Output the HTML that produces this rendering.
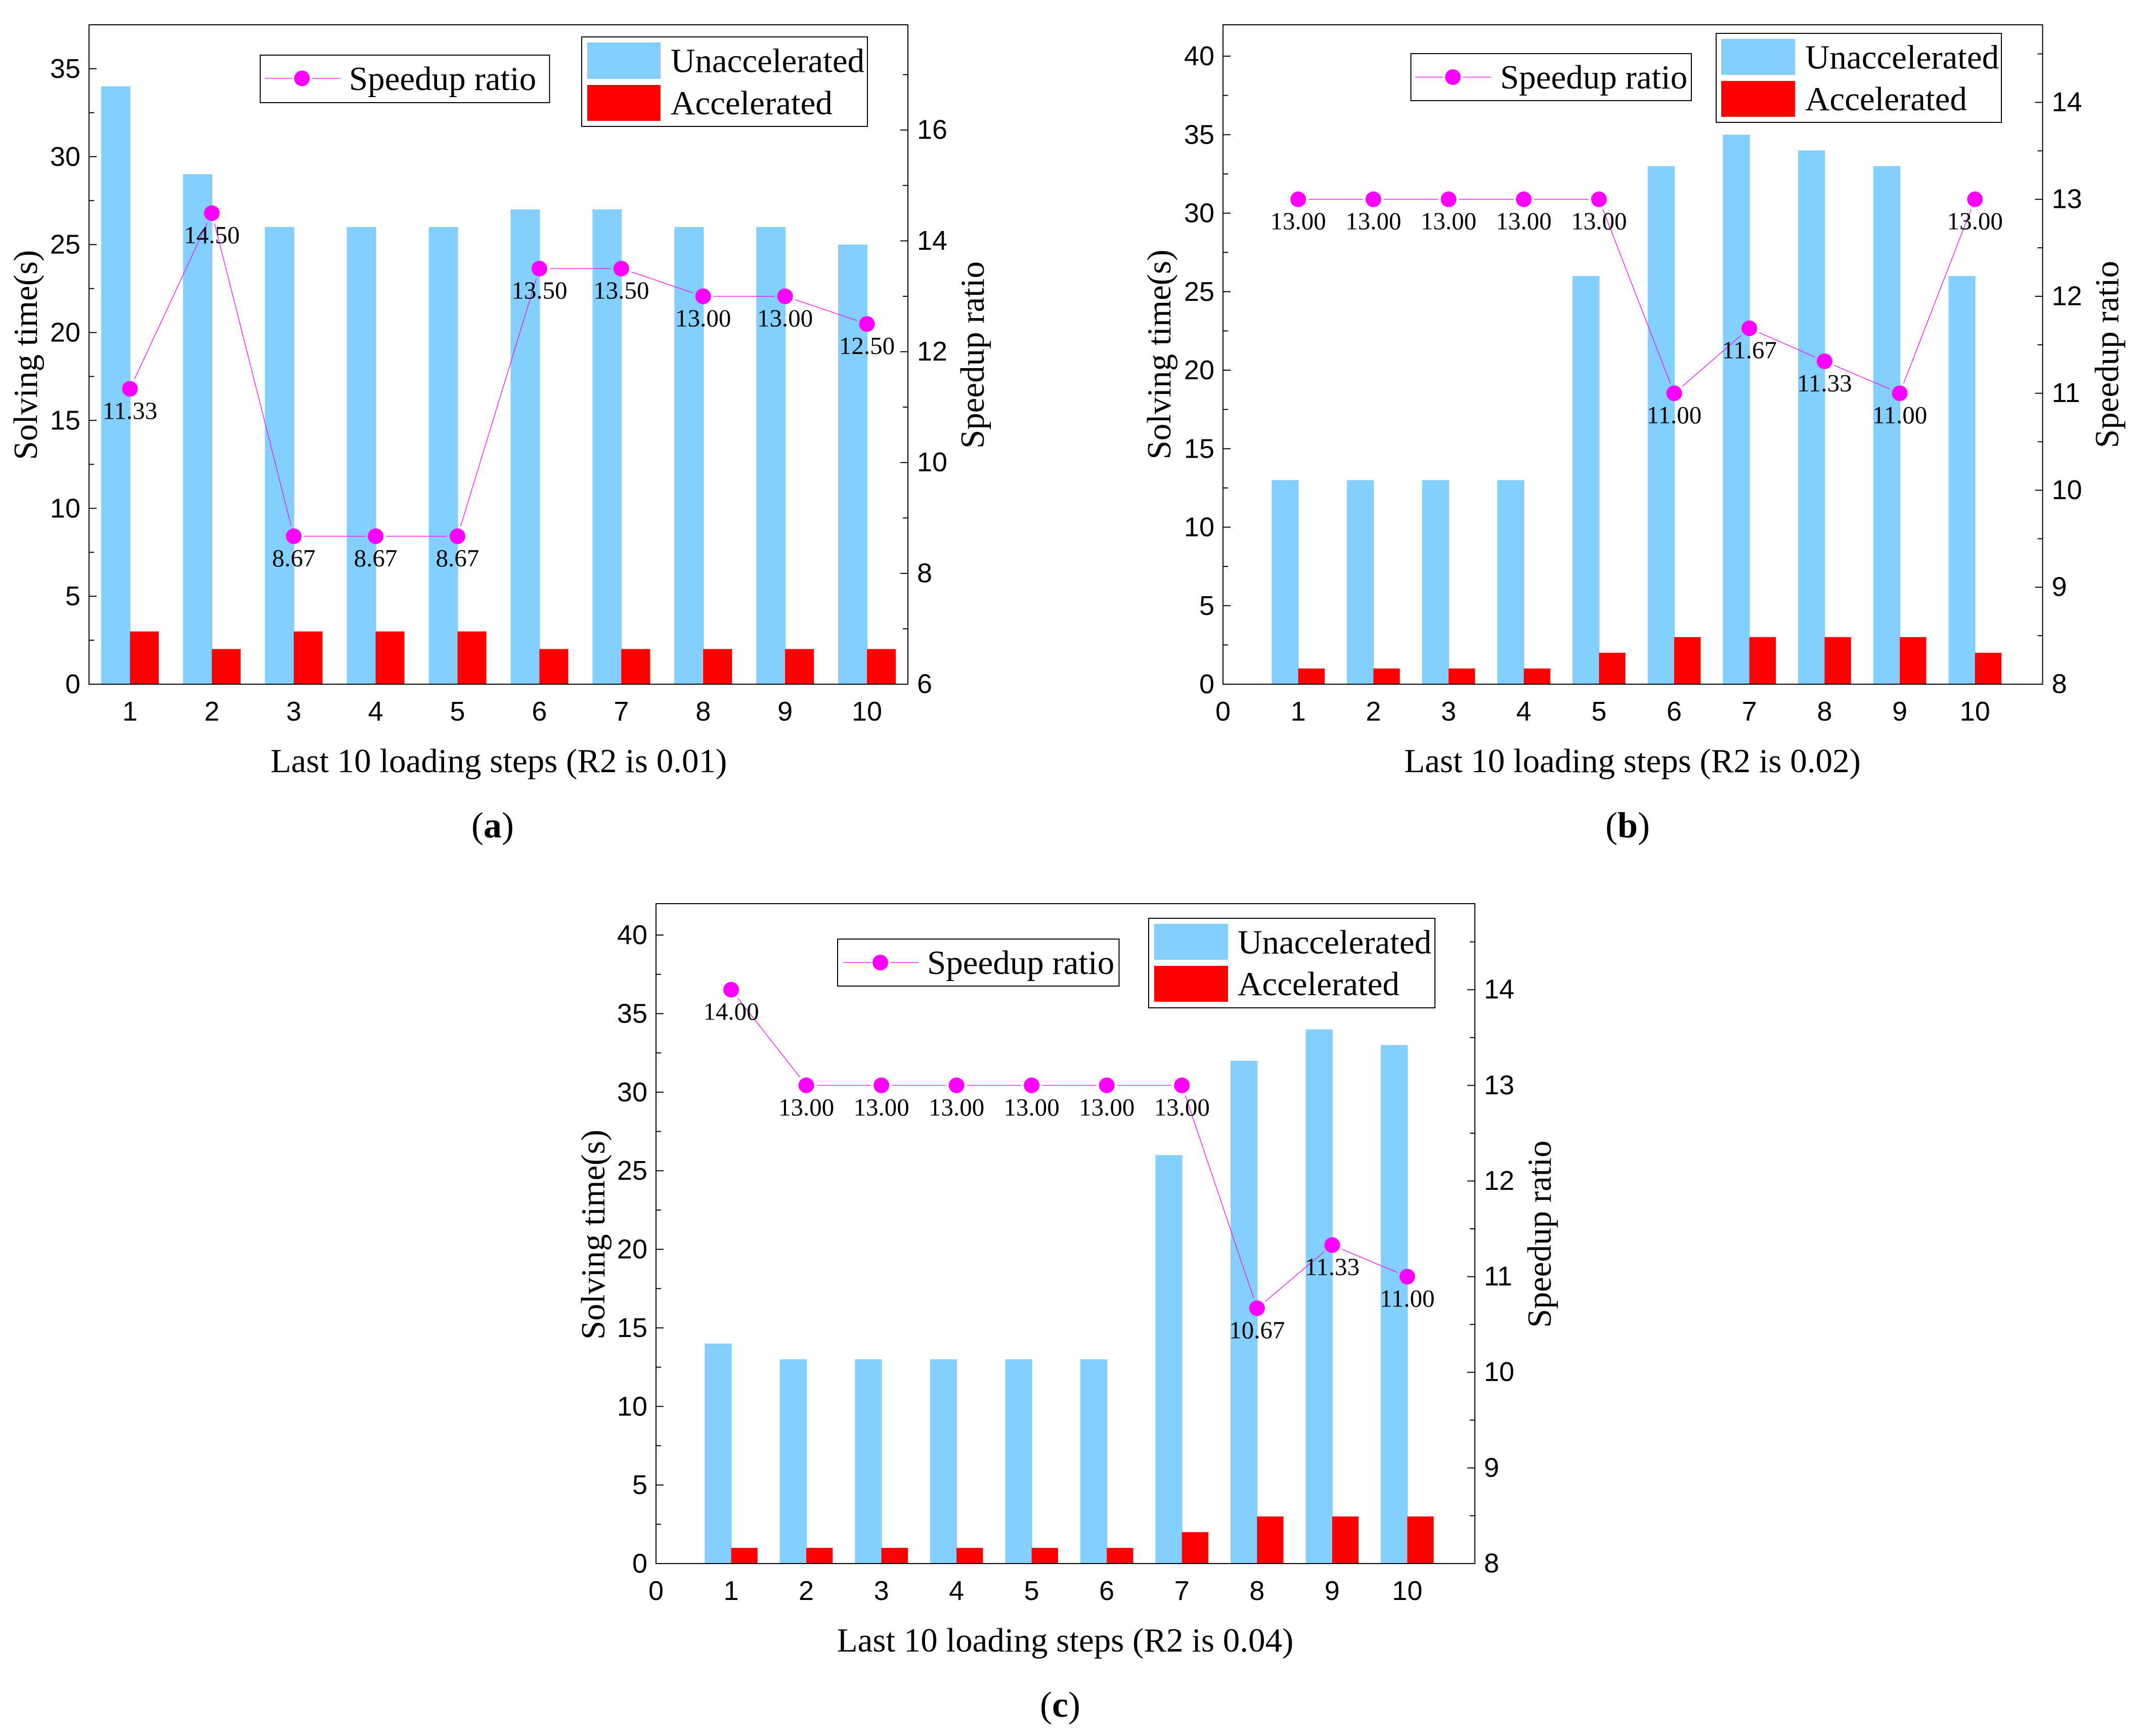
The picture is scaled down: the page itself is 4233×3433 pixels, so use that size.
<!DOCTYPE html>
<html lang="en">
<head>
<meta charset="utf-8">
<title>Solving time and speedup ratio for R2 of 0.01, 0.02 and 0.04</title>
<style>
html,body{margin:0;padding:0;background:#fff;}
svg{display:block;}
.serif{font-family:"Liberation Serif",serif;fill:#000;}
.sans{font-family:"Liberation Sans",sans-serif;fill:#000;}
.frame{fill:none;stroke:#000;stroke-width:2;}
.legend-box{fill:#fff;stroke:#000;stroke-width:2;}
.title{font-size:67px;}
.leg{font-size:67px;}
.ratio-line{stroke:#ff00ff;stroke-width:1.3;fill:none;}
</style>
</head>
<body>
<svg id="chart" xmlns="http://www.w3.org/2000/svg" width="4233" height="3433" viewBox="0 0 4233 3433">
  <rect x="0" y="0" width="4233" height="3433" fill="#fff"/>

  <g id="panel-a">
    <g class="marks"></g>
    <rect class="frame" x="176" y="49" width="1619" height="1304"/>
    <g class="axes"></g>
    <g class="points"></g>
    <text class="serif title" x="986" y="1527" text-anchor="middle">Last 10 loading steps (R2 is 0.01)</text>
    <text class="serif title" transform="translate(73 702) rotate(-90)" text-anchor="middle">Solving time(s)</text>
    <text class="serif title" transform="translate(1945 702) rotate(-90)" text-anchor="middle">Speedup ratio</text>
    <g>
      <rect class="legend-box" x="514.5" y="109" width="572" height="94"/>
      <line class="ratio-line" x1="524" y1="155" x2="578" y2="155"/>
      <line class="ratio-line" x1="617" y1="155" x2="673" y2="155"/>
      <circle cx="597" cy="155" r="15.5" fill="#ff00ff"/>
      <text class="serif leg" x="690" y="178">Speedup ratio</text>
    </g>
    <g>
      <rect class="legend-box" x="1150" y="73" width="565" height="177"/>
      <rect x="1161" y="84" width="145" height="72" fill="#83cfff"/>
      <rect x="1161" y="168" width="145" height="71" fill="#ff0000"/>
      <text class="serif leg" x="1326" y="142.5">Unaccelerated</text>
      <text class="serif leg" x="1326" y="226">Accelerated</text>
    </g>
    <text class="serif" x="974" y="1656" text-anchor="middle" font-size="72">(<tspan font-weight="bold">a</tspan>)</text>
  </g>

  <g id="panel-b">
    <g class="marks"></g>
    <rect class="frame" x="2418" y="49" width="1620.5" height="1304"/>
    <g class="axes"></g>
    <g class="points"></g>
    <text class="serif title" x="3227.5" y="1527" text-anchor="middle">Last 10 loading steps (R2 is 0.02)</text>
    <text class="serif title" transform="translate(2314 701) rotate(-90)" text-anchor="middle">Solving time(s)</text>
    <text class="serif title" transform="translate(4188 701) rotate(-90)" text-anchor="middle">Speedup ratio</text>
    <g>
      <rect class="legend-box" x="2789.5" y="106" width="554.5" height="93"/>
      <line class="ratio-line" x1="2798" y1="152.5" x2="2854" y2="152.5"/>
      <line class="ratio-line" x1="2892" y1="152.5" x2="2948" y2="152.5"/>
      <circle cx="2872.5" cy="152.5" r="15.5" fill="#ff00ff"/>
      <text class="serif leg" x="2966" y="175">Speedup ratio</text>
    </g>
    <g>
      <rect class="legend-box" x="3393" y="66" width="564" height="176"/>
      <rect x="3403" y="77" width="146" height="71" fill="#83cfff"/>
      <rect x="3403" y="160" width="146" height="71" fill="#ff0000"/>
      <text class="serif leg" x="3569" y="135.5">Unaccelerated</text>
      <text class="serif leg" x="3569" y="218">Accelerated</text>
    </g>
    <text class="serif" x="3218" y="1656" text-anchor="middle" font-size="72">(<tspan font-weight="bold">b</tspan>)</text>
  </g>

  <g id="panel-c">
    <g class="marks"></g>
    <rect class="frame" x="1297" y="1787" width="1619" height="1305"/>
    <g class="axes"></g>
    <g class="points"></g>
    <text class="serif title" x="2106" y="3266" text-anchor="middle">Last 10 loading steps (R2 is 0.04)</text>
    <text class="serif title" transform="translate(1195 2441.5) rotate(-90)" text-anchor="middle">Solving time(s)</text>
    <text class="serif title" transform="translate(3066 2440.5) rotate(-90)" text-anchor="middle">Speedup ratio</text>
    <g>
      <rect class="legend-box" x="1656" y="1857" width="556.5" height="93"/>
      <line class="ratio-line" x1="1667" y1="1903.5" x2="1723" y2="1903.5"/>
      <line class="ratio-line" x1="1760" y1="1903.5" x2="1816" y2="1903.5"/>
      <circle cx="1740.5" cy="1903.5" r="15.5" fill="#ff00ff"/>
      <text class="serif leg" x="1833" y="1926">Speedup ratio</text>
    </g>
    <g>
      <rect class="legend-box" x="2271" y="1816" width="566" height="177"/>
      <rect x="2282" y="1827" width="146" height="71" fill="#83cfff"/>
      <rect x="2282" y="1910" width="146" height="71" fill="#ff0000"/>
      <text class="serif leg" x="2447" y="1885.5">Unaccelerated</text>
      <text class="serif leg" x="2447" y="1968">Accelerated</text>
    </g>
    <text class="serif" x="2096" y="3395" text-anchor="middle" font-size="72">(<tspan font-weight="bold">c</tspan>)</text>
  </g>
</svg>

<script>
// Shared categories
var steps = [1, 2, 3, 4, 5, 6, 7, 8, 9, 10];

// Panel (a): R2 = 0.01
var unacceleratedA = [34, 29, 26, 26, 26, 27, 27, 26, 26, 25];
var acceleratedA = [3, 2, 3, 3, 3, 2, 2, 2, 2, 2];
var ratioA = [11.33, 14.5, 8.67, 8.67, 8.67, 13.5, 13.5, 13, 13, 12.5];
var xTicksA = [1, 2, 3, 4, 5, 6, 7, 8, 9, 10];
var leftTicksA = [0, 5, 10, 15, 20, 25, 30, 35];
var leftMinorA = [2.5, 7.5, 12.5, 17.5, 22.5, 27.5, 32.5];
var rightTicksA = [6, 8, 10, 12, 14, 16];
var rightMinorA = [7, 9, 11, 13, 15, 17];

// Panel (b): R2 = 0.02
var unacceleratedB = [13, 13, 13, 13, 26, 33, 35, 34, 33, 26];
var acceleratedB = [1, 1, 1, 1, 2, 3, 3, 3, 3, 2];
var ratioB = [13, 13, 13, 13, 13, 11, 11.67, 11.33, 11, 13];
var xTicksB = [0, 1, 2, 3, 4, 5, 6, 7, 8, 9, 10];
var leftTicksB = [0, 5, 10, 15, 20, 25, 30, 35, 40];
var leftMinorB = [2.5, 7.5, 12.5, 17.5, 22.5, 27.5, 32.5, 37.5];
var rightTicksB = [8, 9, 10, 11, 12, 13, 14];
var rightMinorB = [8.5, 9.5, 10.5, 11.5, 12.5, 13.5, 14.5];

// Panel (c): R2 = 0.04
var unacceleratedC = [14, 13, 13, 13, 13, 13, 26, 32, 34, 33];
var acceleratedC = [1, 1, 1, 1, 1, 1, 2, 3, 3, 3];
var ratioC = [14, 13, 13, 13, 13, 13, 13, 10.67, 11.33, 11];
var xTicksC = [0, 1, 2, 3, 4, 5, 6, 7, 8, 9, 10];
var leftTicksC = [0, 5, 10, 15, 20, 25, 30, 35, 40];
var leftMinorC = [2.5, 7.5, 12.5, 17.5, 22.5, 27.5, 32.5, 37.5];
var rightTicksC = [8, 9, 10, 11, 12, 13, 14];
var rightMinorC = [8.5, 9.5, 10.5, 11.5, 12.5, 13.5, 14.5];

var NS = 'http://www.w3.org/2000/svg';

function mk(parent, tag, attrs) {
  var el = document.createElementNS(NS, tag);
  for (var k in attrs) { el.setAttribute(k, attrs[k]); }
  parent.appendChild(el);
  return el;
}

function linear(d0, d1, r0, r1) {
  return function (v) { return r0 + (v - d0) * (r1 - r0) / (d1 - d0); };
}

function drawPanel(id, box, domains, blue, red, ratio, xTicks, leftTicks, leftMinor, rightTicks, rightMinor) {
  var root = document.getElementById(id);
  var marks = root.querySelector('.marks');
  var axes = root.querySelector('.axes');
  var points = root.querySelector('.points');
  var x = linear(domains.x[0], domains.x[1], box.left, box.right);
  var yL = linear(domains.yL[0], domains.yL[1], box.bottom, box.top);
  var yR = linear(domains.yR[0], domains.yR[1], box.bottom, box.top);
  var barW = 0.352 * (x(1) - x(0));

  steps.forEach(function (s, i) {
    var cx = x(s);
    var by = yL(blue[i]);
    var b = mk(marks, 'rect', { x: cx - barW, y: by, width: barW + 1, height: box.bottom - by, fill: '#83cfff' });
    
    
    var ry = yL(red[i]);
    var r = mk(marks, 'rect', { x: cx, y: ry, width: barW, height: box.bottom - ry, fill: '#ff0000' });
    
    
  });

  leftTicks.forEach(function (v) {
    var t = mk(axes, 'line', { x1: box.left, x2: box.left + 15, y1: yL(v), y2: yL(v), stroke: '#000', 'stroke-width': 2 });
    
    
    var l = mk(axes, 'text', { x: box.left - 17, y: yL(v) + 18, 'text-anchor': 'end', 'font-size': 54, 'class': 'sans' });
    l.textContent = String(v);
    
    
  });
  leftMinor.forEach(function (v) {
    var t = mk(axes, 'line', { x1: box.left, x2: box.left + 10, y1: yL(v), y2: yL(v), stroke: '#000', 'stroke-width': 2 });
    
    
  });
  rightTicks.forEach(function (v) {
    var t = mk(axes, 'line', { x1: box.right, x2: box.right - 15, y1: yR(v), y2: yR(v), stroke: '#000', 'stroke-width': 2 });
    
    
    var l = mk(axes, 'text', { x: box.right + 18, y: yR(v) + 17.5, 'font-size': 54, 'class': 'sans' });
    l.textContent = String(v);
    
    
  });
  rightMinor.forEach(function (v) {
    var t = mk(axes, 'line', { x1: box.right, x2: box.right - 10, y1: yR(v), y2: yR(v), stroke: '#000', 'stroke-width': 2 });
    
    
  });
  xTicks.forEach(function (v) {
    var l = mk(axes, 'text', { x: x(v), y: box.bottom + 72, 'text-anchor': 'middle', 'font-size': 54, 'class': 'sans' });
    l.textContent = String(v);
    
    
  });

  var gap = 21;
  for (var i = 0; i < steps.length - 1; i++) {
    var x0 = x(steps[i]), y0 = yR(ratio[i]), x1 = x(steps[i + 1]), y1 = yR(ratio[i + 1]);
    var len = Math.sqrt((x1 - x0) * (x1 - x0) + (y1 - y0) * (y1 - y0));
    var ux = (x1 - x0) / len, uy = (y1 - y0) / len;
    var seg = mk(points, 'line', { x1: x0 + ux * gap, y1: y0 + uy * gap, x2: x1 - ux * gap, y2: y1 - uy * gap, 'class': 'ratio-line' });
    
    
  }
  steps.forEach(function (s, i) {
    var px = x(s), py = yR(ratio[i]);
    var c = mk(points, 'circle', { cx: px, cy: py, r: 15.5, fill: '#ff00ff' });
    
    
    var l = mk(points, 'text', { x: px, y: py + 59.5, 'text-anchor': 'middle', 'font-size': 49, 'class': 'serif' });
    l.textContent = ratio[i].toFixed(2);
    
    
  });
}

drawPanel('panel-a',
  { left: 176, right: 1795, top: 49, bottom: 1353 },
  { x: [0.5, 10.5], yL: [0, 37.5], yR: [6, 17.9] },
  unacceleratedA, acceleratedA, ratioA, xTicksA, leftTicksA, leftMinorA, rightTicksA, rightMinorA);

drawPanel('panel-b',
  { left: 2418, right: 4038.5, top: 49, bottom: 1353 },
  { x: [0, 10.9], yL: [0, 42], yR: [8, 14.8] },
  unacceleratedB, acceleratedB, ratioB, xTicksB, leftTicksB, leftMinorB, rightTicksB, rightMinorB);

drawPanel('panel-c',
  { left: 1297, right: 2916, top: 1787, bottom: 3092 },
  { x: [0, 10.9], yL: [0, 42], yR: [8, 14.9] },
  unacceleratedC, acceleratedC, ratioC, xTicksC, leftTicksC, leftMinorC, rightTicksC, rightMinorC);
</script>
</body>
</html>
